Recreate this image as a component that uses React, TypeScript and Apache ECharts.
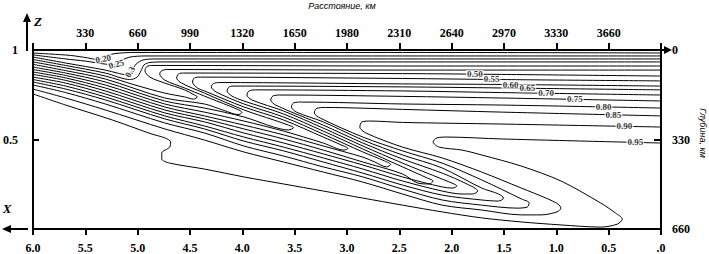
import React, { useEffect, useRef } from 'react';
import * as echarts from 'echarts';

// Contour levels (outer = 0.95, inner = 0.20)
const levels = ['0.20', '0.25', '0.30', '0.35', '0.40', '0.45', '0.50', '0.55', '0.60', '0.65', '0.70', '0.75', '0.80', '0.85', '0.90', '0.95'];

// Contour polylines, points as [distance km, depth km]
const c020 = [[3960, 11], [2330, 9], [643, 9], [518, 13], [456, 22], [406, 35], [344, 29], [237, 20], [112, 15], [0, 11]];
const c025 = [[3960, 22], [2330, 22], [706, 22], [612, 26], [562, 37], [518, 53], [456, 52], [331, 41], [206, 33], [0, 18]];
const c030 = [[3960, 33], [2330, 33], [768, 33], [693, 37], [650, 52], [625, 74], [593, 92], [531, 85], [456, 74], [206, 48], [0, 26]];
const c035 = [[3960, 44], [2330, 44], [831, 44], [737, 46], [700, 55], [681, 77], [656, 100], [612, 109], [456, 85], [206, 57], [0, 35]];
const c040 = [[3960, 59], [2330, 59], [750, 57], [718, 61], [706, 77], [737, 100], [831, 122], [956, 147], [1018, 166], [1037, 173], [1012, 181], [956, 173], [831, 159], [643, 129], [456, 96], [206, 66], [0, 44]];
const c045 = [[3960, 74], [2330, 74], [843, 72], [812, 76], [799, 88], [831, 111], [956, 140], [1081, 170], [1237, 206], [1305, 223], [1318, 230], [1293, 238], [1205, 223], [1081, 199], [831, 177], [456, 107], [206, 76], [0, 53]];
const c050 = [[3960, 96], [2954, 90], [2330, 87], [949, 85], [918, 88], [906, 103], [937, 122], [1081, 159], [1330, 221], [1518, 258], [1611, 277], [1643, 286], [1611, 295], [1518, 284], [1330, 247], [1081, 214], [831, 188], [456, 118], [206, 85], [0, 63]];
const c055 = [[3960, 114], [2954, 109], [2330, 105], [1056, 100], [1018, 103], [1006, 118], [1037, 140], [1081, 151], [1330, 210], [1580, 258], [1830, 321], [1943, 350], [1986, 363], [1961, 369], [1830, 343], [1580, 299], [1330, 262], [1081, 229], [831, 199], [456, 129], [206, 94], [0, 72]];
const c060 = [[3960, 133], [2954, 127], [2330, 125], [1174, 120], [1137, 124], [1124, 136], [1156, 155], [1330, 199], [1580, 247], [1830, 310], [2080, 376], [2217, 409], [2255, 422], [2230, 431], [2155, 413], [2080, 395], [1830, 354], [1580, 313], [1330, 277], [1081, 243], [831, 210], [456, 140], [206, 103], [0, 81]];
const c065 = [[3960, 147], [2954, 140], [2330, 136], [1274, 133], [1237, 136], [1224, 151], [1255, 170], [1330, 188], [1580, 236], [1830, 299], [2080, 365], [2330, 431], [2486, 472], [2523, 483], [2498, 494], [2423, 490], [2330, 457], [2080, 413], [1830, 369], [1580, 328], [1330, 291], [1081, 254], [831, 221], [456, 151], [206, 112], [0, 90]];
const c070 = [[3960, 166], [2954, 157], [2330, 151], [1405, 147], [1362, 151], [1349, 166], [1380, 184], [1580, 225], [1830, 288], [2080, 354], [2330, 417], [2580, 476], [2655, 494], [2673, 501], [2648, 509], [2580, 505], [2330, 468], [2080, 424], [1830, 383], [1580, 343], [1330, 306], [1081, 265], [831, 232], [456, 162], [206, 122], [0, 100]];
const c075 = [[3960, 188], [2954, 177], [2330, 171], [1555, 166], [1512, 170], [1499, 184], [1530, 203], [1830, 277], [2080, 343], [2330, 402], [2580, 454], [2736, 494], [2804, 520], [2773, 531], [2705, 531], [2580, 520], [2330, 483], [2080, 439], [1830, 398], [1580, 358], [1330, 321], [1081, 280], [831, 243], [456, 173], [206, 133], [0, 109]];
const c080 = [[3960, 214], [2954, 203], [2330, 199], [1693, 192], [1643, 195], [1630, 210], [1661, 229], [1830, 265], [2080, 332], [2330, 387], [2580, 435], [2829, 509], [2936, 531], [2967, 546], [2936, 557], [2829, 553], [2580, 535], [2330, 498], [2080, 454], [1830, 413], [1580, 372], [1330, 336], [1081, 291], [831, 254], [456, 184], [206, 144], [0, 118]];
const c085 = [[3960, 243], [2954, 229], [2330, 219], [1843, 212], [1786, 216], [1774, 232], [1811, 251], [2080, 321], [2330, 372], [2580, 417], [2829, 479], [3079, 549], [3129, 564], [3117, 579], [3048, 583], [2829, 572], [2580, 553], [2330, 513], [2080, 468], [1830, 431], [1580, 391], [1330, 354], [1081, 306], [831, 269], [456, 199], [206, 157], [0, 129]];
const c090 = [[3960, 284], [2954, 273], [2330, 267], [2130, 262], [2074, 265], [2061, 284], [2099, 306], [2330, 358], [2580, 398], [2829, 450], [3079, 509], [3235, 546], [3310, 568], [3329, 583], [3304, 597], [3204, 608], [3079, 608], [2829, 590], [2580, 572], [2330, 531], [2080, 487], [1830, 450], [1580, 413], [1330, 376], [1081, 332], [831, 291], [456, 221], [206, 177], [0, 144]];
const c095 = [[3960, 343], [2954, 328], [2611, 321], [2548, 324], [2523, 339], [2561, 358], [2705, 369], [2829, 387], [3079, 428], [3329, 483], [3579, 564], [3673, 601], [3716, 623], [3685, 642], [3579, 653], [3329, 645], [3079, 634], [2829, 619], [2580, 597], [2330, 572], [2080, 546], [1830, 520], [1580, 494], [1330, 468], [1081, 439], [862, 417], [812, 402], [812, 380], [862, 358], [868, 339], [831, 324], [750, 310], [500, 258], [206, 203], [0, 162]];

const contours = [c020, c025, c030, c035, c040, c045, c050, c055, c060, c065, c070, c075, c080, c085, c090, c095];

// Contour labels: [distance km, depth km, text, rotation deg]
const contourLabels: [number, number, string, number][] = [
  [443, 33, '0.20', 10],
  [525, 52, '0.25', 15],
  [612, 81, '0.3', 60],
  [2786, 89, '0.50', 0],
  [2892, 108, '0.55', 0],
  [3011, 128, '0.60', 0],
  [3117, 141, '0.65', 0],
  [3235, 159, '0.70', 0],
  [3417, 182, '0.75', 0],
  [3598, 210, '0.80', 0],
  [3660, 239, '0.85', 0],
  [3729, 281, '0.90', 0],
  [3798, 341, '0.95', 0],
];

// Tick labels
const bottomTicks = ['6.0', '5.5', '5.0', '4.5', '4.0', '3.5', '3.0', '2.5', '2.0', '1.5', '1.0', '0.5', '.0'];
const topTicks = ['', '330', '660', '990', '1320', '1650', '1980', '2310', '2640', '2970', '3330', '3660', ''];
const leftTicks = ['', '0.5', '1'];
const rightTicks = ['0', '330', '660'];

const tickFont = { color: '#000', fontFamily: '"Liberation Serif", serif', fontWeight: 'bold' as const, fontSize: 12 };
const axisLineStyle = { color: '#000', width: 2 };

export default function App() {
  const ref = useRef<HTMLDivElement>(null);
  useEffect(() => {
    const chart = echarts.init(ref.current!, null, { renderer: 'svg' });
    const lineSeries = contours.map((pts, i) => ({
      type: 'line',
      name: levels[i],
      xAxisIndex: 1,
      yAxisIndex: 1,
      data: pts,
      showSymbol: false,
      symbol: 'none',
      smooth: 0.3,
      silent: true,
      color: '#000',
      lineStyle: { color: '#000', width: 1 },
      z: 3,
    }));
    const labelStyle = {
      show: true,
      position: 'inside',
      fontSize: 9,
      fontWeight: 'bold',
      fontFamily: '"Liberation Serif", serif',
      color: '#000',
      backgroundColor: '#fff',
      padding: [0, 1],
      lineHeight: 8,
    };
    const labelSeries = {
      type: 'scatter',
      xAxisIndex: 1,
      yAxisIndex: 1,
      symbolSize: 1,
      silent: true,
      itemStyle: { color: 'rgba(0,0,0,0)' },
      z: 10,
      data: contourLabels.map((l) => ({
        value: [l[0], l[1]],
        name: l[2],
        label: { ...labelStyle, rotate: l[3], formatter: l[2] },
      })),
      label: { ...labelStyle, formatter: (p: any) => p.name },
    };
    chart.setOption({
      animation: false,
      backgroundColor: '#fff',
      color: ['#000'],
      grid: { left: 27, right: 48, top: 50, bottom: 25, containLabel: false },
      xAxis: [
        {
          type: 'value', position: 'bottom', min: 0, max: 6, interval: 0.5, inverse: true,
          axisLine: { show: true, lineStyle: axisLineStyle },
          axisTick: { show: true, length: 6, lineStyle: axisLineStyle },
          splitLine: { show: false },
          axisLabel: { ...tickFont, margin: 13, showMinLabel: true, showMaxLabel: true, formatter: (v: number) => bottomTicks[Math.round((6 - v) / 0.5)] ?? '' },
        },
        {
          type: 'value', position: 'top', min: 0, max: 3960, interval: 330,
          axisLine: { show: true, lineStyle: axisLineStyle },
          axisTick: { show: true, length: 7, lineStyle: axisLineStyle },
          splitLine: { show: false },
          axisLabel: { ...tickFont, margin: 11, showMinLabel: true, showMaxLabel: true, formatter: (v: number) => topTicks[Math.round(v / 330)] ?? '' },
        },
      ],
      yAxis: [
        {
          type: 'value', position: 'left', min: 0, max: 1, interval: 0.5,
          axisLine: { show: true, lineStyle: axisLineStyle },
          axisTick: { show: true, length: 7, lineStyle: axisLineStyle },
          splitLine: { show: false },
          axisLabel: { ...tickFont, margin: 15, showMinLabel: true, showMaxLabel: true, formatter: (v: number) => leftTicks[Math.round(v / 0.5)] ?? '' },
        },
        {
          type: 'value', position: 'right', min: 0, max: 660, interval: 330, inverse: true,
          axisLine: { show: true, lineStyle: axisLineStyle },
          axisTick: { show: true, length: 6, lineStyle: axisLineStyle },
          splitLine: { show: false },
          axisLabel: { ...tickFont, margin: 11, showMinLabel: true, showMaxLabel: true, formatter: (v: number) => rightTicks[Math.round(v / 330)] ?? '' },
        },
      ],
      graphic: [
        { type: 'line', shape: { x1: 27, y1: 51, x2: 27, y2: 18 }, style: { stroke: '#000', lineWidth: 2 } },
        { type: 'polygon', shape: { points: [[23, 22], [27, 13], [31, 22]] }, style: { fill: '#000' } },
        { type: 'line', shape: { x1: 28, y1: 229, x2: 8, y2: 229 }, style: { stroke: '#000', lineWidth: 2 } },
        { type: 'polygon', shape: { points: [[11, 225], [2, 229], [11, 233]] }, style: { fill: '#000' } },
        { type: 'line', shape: { x1: 660, y1: 50, x2: 667, y2: 50 }, style: { stroke: '#000', lineWidth: 2 } },
        { type: 'polygon', shape: { points: [[664, 46], [672, 50], [664, 54]] }, style: { fill: '#000' } },
        { type: 'text', x: 38, y: 21, style: { text: 'Z', fontSize: 13, fontStyle: 'italic', fontWeight: 'bold', fontFamily: '"Liberation Serif", serif', fill: '#000', align: 'center', verticalAlign: 'middle' } },
        { type: 'text', x: 7, y: 208, style: { text: 'X', fontSize: 13, fontStyle: 'italic', fontWeight: 'bold', fontFamily: '"Liberation Serif", serif', fill: '#000', align: 'center', verticalAlign: 'middle' } },
        { type: 'text', x: 342, y: 6, style: { text: 'Расстояние, км', fontSize: 9, fontStyle: 'italic', fontFamily: '"Liberation Sans", sans-serif', fill: '#000', align: 'center', verticalAlign: 'middle' } },
        { type: 'text', x: 703, y: 133, rotation: -Math.PI / 2, style: { text: 'Глубина, км', fontSize: 9, fontStyle: 'italic', fontFamily: '"Liberation Sans", sans-serif', fill: '#000', align: 'center', verticalAlign: 'middle' } },
      ],
      series: [...lineSeries, labelSeries],
    });
    return () => chart.dispose();
  }, []);
  return <div ref={ref} style={{ position: 'absolute', left: 0, top: 0, width: 709, height: 254, background: '#fff' }} />;
}
